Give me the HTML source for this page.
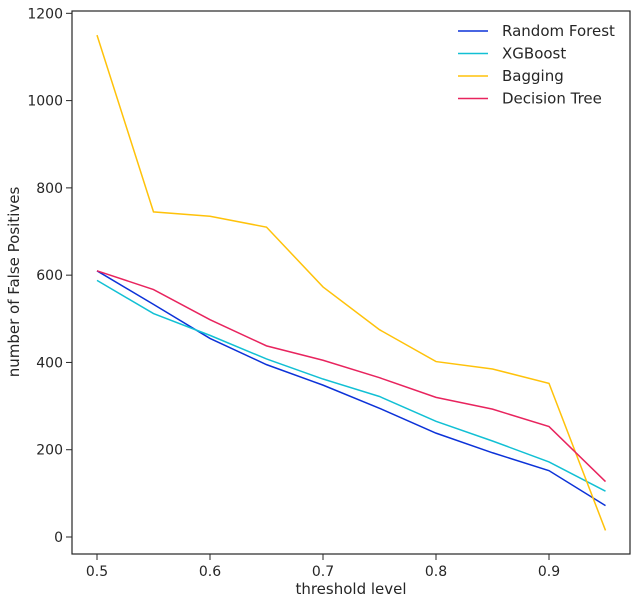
<!DOCTYPE html>
<html><head><meta charset="utf-8"><style>
body{margin:0;background:#fff;font-family:"DejaVu Sans","Liberation Sans",sans-serif;}
svg text{font-family:"DejaVu Sans","Liberation Sans",sans-serif;fill:#262626;}
</style></head><body>
<svg id="chart" width="640" height="603" xmlns="http://www.w3.org/2000/svg">
<rect x="72" y="11" width="558" height="543" fill="none" stroke="#262626" stroke-width="1.2"/>
<g id="xticks"></g><g id="yticks"></g><g id="series"></g><g id="legend"></g>
<text x="351" y="594" font-size="15" text-anchor="middle">threshold level</text>
<text transform="translate(19,282) rotate(-90)" font-size="15" text-anchor="middle">number of False Positives</text>
</svg>
<script>
const thresholds=[0.5,0.55,0.6,0.65,0.7,0.75,0.8,0.85,0.9,0.95];
const randomForest=[610,533,455,395,348,295,238,193,152,72];
const xgboost=[588,512,462,408,362,322,265,220,172,105];
const bagging=[1150,745,735,710,573,475,402,385,352,15];
const decisionTree=[610,567,498,438,405,365,320,293,253,127];
const seriesNames=["Random Forest","XGBoost","Bagging","Decision Tree"];
const xTickLabels=["0.5","0.6","0.7","0.8","0.9"];
const yTickLabels=["0","200","400","600","800","1000","1200"];
const colors=["#0c32d8","#12c0d4","#ffc20a","#e8245e"];
const allSeries=[randomForest,xgboost,bagging,decisionTree];
const NS="http://www.w3.org/2000/svg";
const xs=v=>97+(v-0.5)*1130;
const ys=v=>537-v*0.4364;
function mk(tag,attrs,parent){const e=document.createElementNS(NS,tag);for(const k in attrs)e.setAttribute(k,attrs[k]);parent.appendChild(e);return e;}
const xg=document.getElementById('xticks'),yg=document.getElementById('yticks'),sg=document.getElementById('series'),lg=document.getElementById('legend');
xTickLabels.forEach(t=>{const x=xs(parseFloat(t));
const l=mk('line',{x1:x,x2:x,y1:554,y2:560,stroke:'#262626'},xg);


const tx=mk('text',{x:x,y:576,'font-size':14,'text-anchor':'middle'},xg);tx.textContent=t;

});
yTickLabels.forEach(t=>{const y=ys(parseFloat(t));
const l=mk('line',{x1:66,x2:72,y1:y,y2:y,stroke:'#262626'},yg);


const tx=mk('text',{x:63,y:y+5,'font-size':14,'text-anchor':'end'},yg);tx.textContent=t;

});
allSeries.forEach((s,i)=>{const pts=s.map((v,j)=>xs(thresholds[j])+','+ys(v)).join(' ');
const p=mk('polyline',{points:pts,fill:'none',stroke:colors[i],'stroke-width':1.5},sg);


const y=31+i*22.5;
const l=mk('line',{x1:458,x2:488,y1:y,y2:y,stroke:colors[i],'stroke-width':1.5},lg);


const tx=mk('text',{x:502,y:y+5,'font-size':15},lg);tx.textContent=seriesNames[i];

});
</script>
</body></html>
